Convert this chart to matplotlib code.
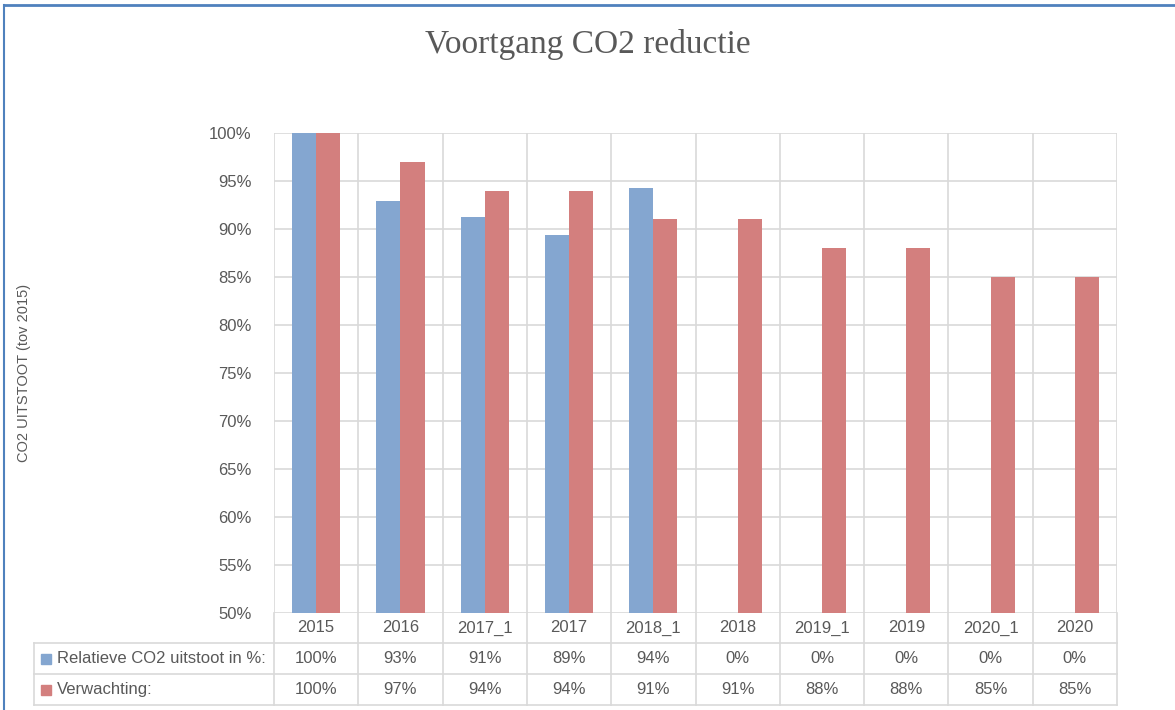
import numpy as np
import matplotlib
matplotlib.use('Agg')
import matplotlib.pyplot as plt
from matplotlib.lines import Line2D
from matplotlib.patches import Rectangle
import matplotlib.transforms as mtransforms

# Data
categories = ['2015', '2016', '2017_1', '2017', '2018_1', '2018', '2019_1', '2019', '2020_1', '2020']
relatief = [100, 92.9, 91.2, 89.4, 94.3, 0, 0, 0, 0, 0]
verwachting = [100, 97, 94, 94, 91, 91, 88, 88, 85, 85]
series_names = ['Relatieve CO2 uitstoot in %:', 'Verwachting:']
series_colors = ['#84A6D0', '#D37F7E']

text_gray = '#595959'
grid_gray = '#D9D9D9'
plt.rcParams['font.family'] = ['Liberation Sans', 'DejaVu Sans']

fig = plt.figure(figsize=(11.75, 7.10), dpi=100)
ax = fig.add_axes([274 / 1175, 1 - 613 / 710, (1117 - 274) / 1175, 480 / 710])

x = np.arange(len(categories))
w = 0.286
ax.bar(x - w / 2, relatief, width=w, color=series_colors[0], zorder=3)
ax.bar(x + w / 2, verwachting, width=w, color=series_colors[1], zorder=3)

ax.set_xlim(-0.5, len(categories) - 0.5)
ax.set_ylim(50, 100)
ax.set_yticks(np.arange(50, 101, 5))
ax.set_yticklabels([f'{v}%' for v in range(50, 101, 5)], color=text_gray, fontsize=12)
ax.tick_params(axis='y', length=0, pad=16)
ax.set_xticks([])
ax.grid(axis='y', color=grid_gray, linewidth=1.2, zorder=0)
for s in ax.spines.values():
    s.set_visible(False)
for b in np.arange(-0.5, len(categories), 1.0):
    ax.axvline(b, color=grid_gray, linewidth=1.2, zorder=0)

ax.set_ylabel('CO2 UITSTOOT (tov 2015)', color=text_gray, fontsize=10.5)
ax.yaxis.set_label_coords(-243 / 843, 0.5)

# table below the plot
trans = mtransforms.blended_transform_factory(ax.transData, ax.transAxes)
px = 1 / 480
rows = [0, -30 * px, -61 * px, -92 * px]
left_x = -0.5 - (274 - 34) / 84.3
tab_lw = 1.2
for b in np.arange(-0.5, len(categories), 1.0):
    ax.add_line(Line2D([b, b], [0, rows[3]], transform=trans, color=grid_gray,
                       lw=tab_lw, clip_on=False))
for r in rows[1:]:
    ax.add_line(Line2D([left_x, len(categories) - 0.5], [r, r], transform=trans,
                       color=grid_gray, lw=tab_lw, clip_on=False))
ax.add_line(Line2D([left_x, left_x], [rows[1], rows[3]], transform=trans,
                   color=grid_gray, lw=tab_lw, clip_on=False))

for i, c in enumerate(categories):
    ax.text(i, (rows[0] + rows[1]) / 2, c, transform=trans, ha='center', va='center',
            color=text_gray, fontsize=12)
    ax.text(i, (rows[1] + rows[2]) / 2, f'{round(relatief[i])}%', transform=trans,
            ha='center', va='center', color=text_gray, fontsize=12)
    ax.text(i, (rows[2] + rows[3]) / 2, f'{round(verwachting[i])}%', transform=trans,
            ha='center', va='center', color=text_gray, fontsize=12)

for k, (name, col) in enumerate(zip(series_names, series_colors)):
    fig_y = 1 - (613 + (31 * k + 15.5 + 30 * 1.0)) / 710
    fig.patches.append(Rectangle((41 / 1175, fig_y - 5 / 710), 10 / 1175, 10 / 710,
                                 transform=fig.transFigure, color=col))
    fig.text(57 / 1175, fig_y, name, ha='left', va='center', color=text_gray, fontsize=12)

fig.text(0.5, 1 - 44 / 710, 'Voortgang CO2 reductie', ha='center', va='center',
         color=text_gray, fontsize=24, family=['Liberation Serif', 'DejaVu Serif'])

# chart border (blue, top and left)
fig.add_artist(Line2D([4 / 1175, 1], [1 - 5 / 710, 1 - 5 / 710], transform=fig.transFigure,
                      color='#4F81BD', lw=2))
fig.add_artist(Line2D([4 / 1175, 4 / 1175], [0, 1 - 5 / 710], transform=fig.transFigure,
                      color='#4F81BD', lw=1.5))

fig.savefig('out.png', dpi=100)
